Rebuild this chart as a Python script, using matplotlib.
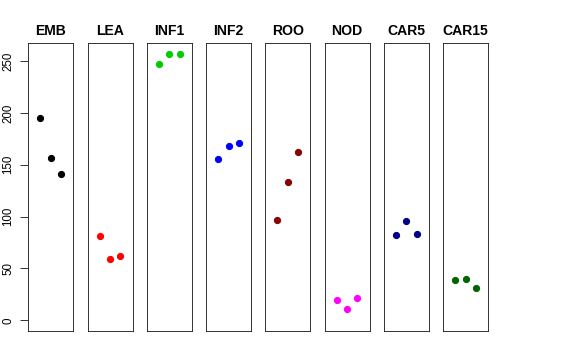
import matplotlib
matplotlib.use("Agg")
import matplotlib.pyplot as plt

categories = ["EMB", "LEA", "INF1", "INF2", "ROO", "NOD", "CAR5", "CAR15"]
values = {
    "EMB":   [195.1, 156.9, 141.5],
    "LEA":   [81.3, 59.1, 62.0],
    "INF1":  [247.2, 256.5, 256.8],
    "INF2":  [155.9, 168.5, 171.4],
    "ROO":   [96.7, 133.1, 162.7],
    "NOD":   [19.3, 11.3, 21.9],
    "CAR5":  [82.3, 95.8, 82.9],
    "CAR15": [38.6, 39.8, 30.9],
}
colors = ["#000000", "#FF0000", "#00CD00", "#0000FF", "#8B0000", "#FF00FF", "#00008B", "#006400"]
yticks = [0, 50, 100, 150, 200, 250]
reps = [1, 2, 3]

plt.rcParams['font.family'] = ['Liberation Sans', 'DejaVu Sans']

W, H = 576, 360
fig = plt.figure(figsize=(W / 72, H / 72), dpi=72)

ymax = max(max(v) for v in values.values())
ylo, yhi = -0.04 * ymax, 1.04 * ymax

left0, step, width = 28.3, 59.25, 45.0
bottom_px, top_px = 331.0, 43.3

for i, (cat, col) in enumerate(zip(categories, colors)):
    ax = fig.add_axes([(left0 + i * step) / W, (H - bottom_px) / H,
                       width / W, (bottom_px - top_px) / H])
    ax.plot(reps, values[cat], 'o', color=col, ms=6.2, mec=col)
    ax.set_xlim(-0.16, 4.16)
    ax.set_ylim(ylo, yhi)
    ax.set_xticks([])
    for s in ax.spines.values():
        s.set_linewidth(0.9)
        s.set_color('#222222')
    ax.set_title(cat, fontsize=14, fontweight='bold', pad=8.5)
    if i == 0:
        ax.set_yticks(yticks)
        ax.set_yticklabels([str(t) for t in yticks], rotation=90, va='center', fontsize=11.5)
        ax.tick_params(axis='y', length=8, width=0.9, pad=6, color='#222222')
    else:
        ax.set_yticks([])

fig.savefig("out.png", dpi=72)
